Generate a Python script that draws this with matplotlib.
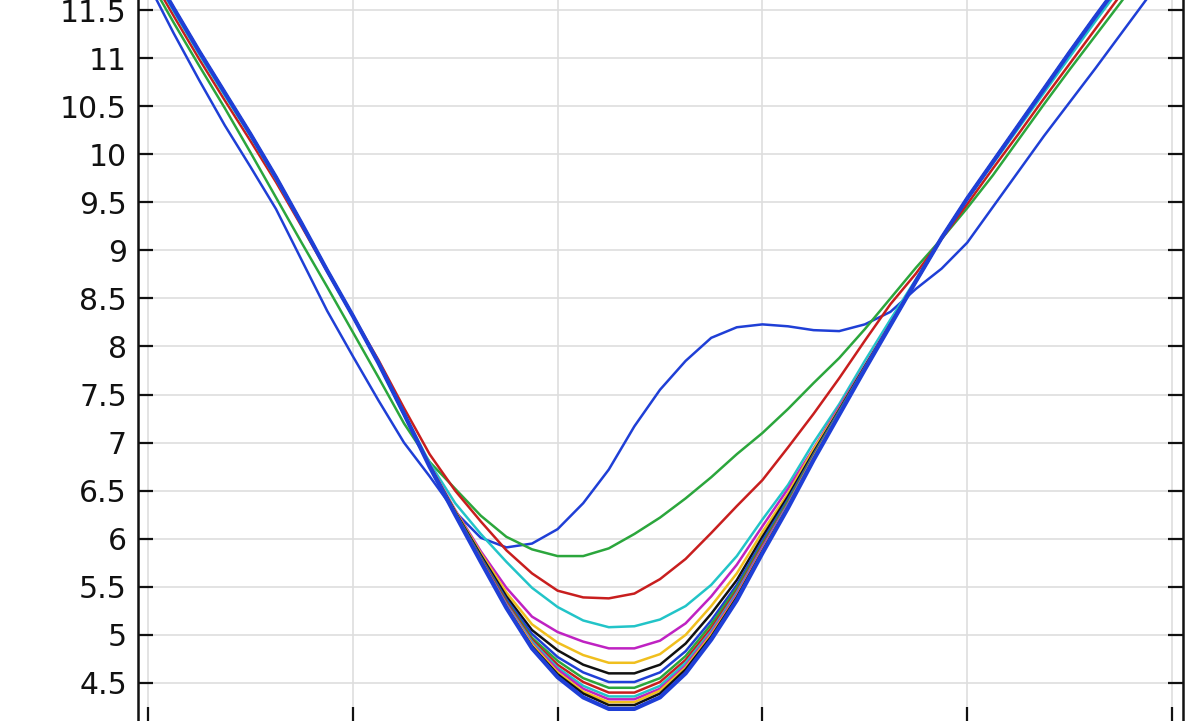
import matplotlib.pyplot as plt
import numpy as np

# sample points along the x axis (tick labels lie below the cropped view)
x = np.linspace(0, 5, 41)

# lowest curve of the sweep (the limit the family converges to)
limit = [11.98, 11.52, 11.07, 10.64, 10.21, 9.76, 9.28, 8.79, 8.32, 7.83, 7.30,
         6.75, 6.25, 5.76, 5.28, 4.86, 4.56, 4.35, 4.23, 4.23, 4.35, 4.60, 4.95,
         5.36, 5.85, 6.32, 6.82, 7.29, 7.76, 8.22,
         8.68, 9.13, 9.54, 9.92, 10.30, 10.68, 11.06, 11.43, 11.79, 12.15, 12.50]

curve1 = [11.78, 11.26, 10.77, 10.30, 9.87, 9.43, 8.90, 8.37, 7.90, 7.44, 7.00,
          6.65, 6.28, 6.01, 5.91, 5.95, 6.10, 6.37, 6.72, 7.17, 7.55, 7.85, 8.09,
          8.20, 8.23, 8.21, 8.17, 8.16, 8.23, 8.36,
          8.60, 8.81, 9.08, 9.45, 9.82, 10.19, 10.54, 10.89, 11.25, 11.61, 11.97]
curve2 = [11.84, 11.37, 10.92, 10.48, 10.02, 9.55, 9.08, 8.62, 8.15, 7.68, 7.20,
          6.80, 6.52, 6.24, 6.02, 5.89, 5.82, 5.82, 5.90, 6.05, 6.22, 6.42, 6.64,
          6.88, 7.10, 7.35, 7.62, 7.88, 8.18, 8.50,
          8.82, 9.12, 9.44, 9.78, 10.15, 10.52, 10.88, 11.23, 11.58, 11.94, 12.30]
curve3 = [11.90, 11.44, 10.99, 10.56, 10.14, 9.71, 9.25, 8.78, 8.32, 7.86, 7.36,
          6.88, 6.50, 6.18, 5.88, 5.64, 5.46, 5.39, 5.38, 5.43, 5.58, 5.79, 6.06,
          6.34, 6.61, 6.95, 7.30, 7.67, 8.06, 8.44,
          8.76, 9.12, 9.48, 9.85, 10.21, 10.58, 10.94, 11.30, 11.66, 12.02, 12.37]
curve4 = [11.95, 11.49, 11.04, 10.61, 10.19, 9.74, 9.27, 8.79, 8.32, 7.84, 7.31,
          6.79, 6.37, 6.05, 5.76, 5.49, 5.29, 5.15, 5.08, 5.09, 5.16, 5.30, 5.52,
          5.82, 6.20, 6.56, 7.00, 7.40, 7.85, 8.28,
          8.70, 9.13, 9.53, 9.90, 10.27, 10.64, 11.01, 11.38, 11.74, 12.10, 12.45]

# the remaining curves only leave the limit curve around the minimum (points 11..29)
mid5 = [6.77, 6.30, 5.87, 5.49, 5.19, 5.03, 4.93, 4.86, 4.86, 4.94, 5.12, 5.40, 5.73, 6.13, 6.52, 6.94, 7.37, 7.80, 8.24]
mid6 = [6.76, 6.29, 5.85, 5.44, 5.11, 4.92, 4.79, 4.71, 4.71, 4.80, 5.00, 5.30, 5.64, 6.07, 6.47, 6.93, 7.35, 7.79, 8.23]
mid7 = [6.76, 6.28, 5.83, 5.40, 5.05, 4.84, 4.69, 4.60, 4.60, 4.69, 4.91, 5.22, 5.57, 6.02, 6.44, 6.90, 7.34, 7.79, 8.23]
mid8 = [6.76, 6.27, 5.81, 5.37, 5.01, 4.77, 4.61, 4.51, 4.51, 4.61, 4.83, 5.15, 5.52, 5.98, 6.41, 6.88, 7.33, 7.78, 8.23]
mid9 = [6.76, 6.27, 5.80, 5.35, 4.97, 4.73, 4.55, 4.45, 4.45, 4.55, 4.78, 5.11, 5.49, 5.95, 6.39, 6.87, 7.32, 7.78, 8.23]
mid10 = [6.76, 6.26, 5.79, 5.34, 4.95, 4.69, 4.51, 4.40, 4.40, 4.51, 4.74, 5.07, 5.46, 5.93, 6.37, 6.86, 7.31, 7.77, 8.23]
mid11 = [6.75, 6.26, 5.78, 5.32, 4.93, 4.66, 4.47, 4.36, 4.36, 4.47, 4.71, 5.04, 5.44, 5.91, 6.36, 6.85, 7.31, 7.77, 8.22]
mid12 = [6.75, 6.26, 5.78, 5.31, 4.91, 4.64, 4.44, 4.33, 4.33, 4.44, 4.68, 5.02, 5.42, 5.90, 6.35, 6.84, 7.30, 7.77, 8.22]
mid13 = [6.75, 6.25, 5.77, 5.30, 4.90, 4.61, 4.41, 4.30, 4.30, 4.42, 4.66, 5.00, 5.40, 5.88, 6.34, 6.84, 7.30, 7.76, 8.22]
mid14 = [6.75, 6.25, 5.77, 5.29, 4.88, 4.59, 4.39, 4.27, 4.27, 4.39, 4.64, 4.98, 5.39, 5.87, 6.33, 6.83, 7.29, 7.76, 8.22]

y_ticks = [4.5, 5, 5.5, 6, 6.5, 7, 7.5, 8, 8.5, 9, 9.5, 10, 10.5, 11, 11.5]
y_tick_labels = ['4.5', '5', '5.5', '6', '6.5', '7', '7.5', '8', '8.5', '9', '9.5', '10', '10.5', '11', '11.5']
x_ticks = [0, 1, 2, 3, 4, 5]

cycle = ['#1f3fd6', '#2ba63c', '#c81e1e', '#22c4c8', '#bf22c2', '#f0bf1e', '#111111']

curves = [curve1, curve2, curve3, curve4]
for mid in [mid5, mid6, mid7, mid8, mid9, mid10, mid11, mid12, mid13, mid14]:
    curves.append(limit[:11] + mid + limit[30:])
curves.append(limit)

fig = plt.figure(figsize=(12, 7.21), dpi=100)
ax = fig.add_axes([138 / 1200, -1 / 721, 1045 / 1200, 724 / 721])

for i, c in enumerate(curves):
    # the limit curve sits on top of many overlapping ones, so it looks heavier
    lw = 3.0 if i == len(curves) - 1 else 1.8
    ax.plot(x, c, color=cycle[i % 7], linewidth=lw, zorder=3 + i * 0.01,
            solid_joinstyle='round')

ax.set_xlim(-0.0488, 5.0537)
ax.set_ylim(4.094, 11.625)
ax.set_yticks(y_ticks)
ax.set_yticklabels(y_tick_labels)
ax.set_xticks(x_ticks)
ax.tick_params(axis='both', direction='in', length=11, width=1.6, colors='#111111',
               labelsize=21.5, pad=8, right=True, top=False, labelbottom=False)
ax.grid(True, color='#dedede', linewidth=1.2, zorder=0)
for s in ax.spines.values():
    s.set_linewidth(1.8)
    s.set_color('#111111')

fig.savefig('out.png', dpi=100)
